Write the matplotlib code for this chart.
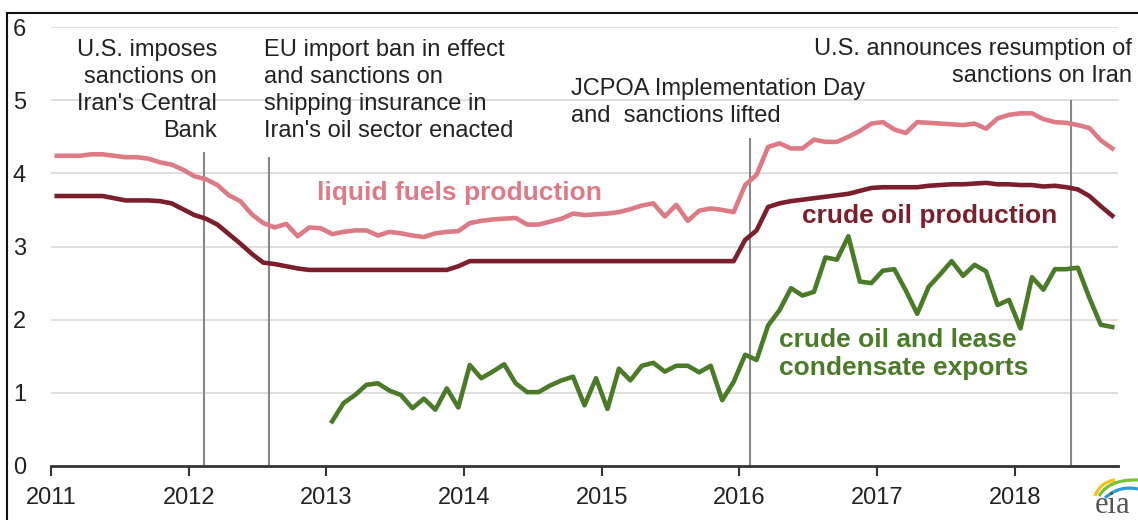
import matplotlib
matplotlib.use("Agg")
import matplotlib.pyplot as plt
from matplotlib.patches import Rectangle, PathPatch
from matplotlib.path import Path
import numpy as np

# ---------------- data (million barrels per day) ----------------
start_year = 2011
liquid_fuels = [4.24, 4.24, 4.24, 4.26, 4.26, 4.24, 4.22, 4.22, 4.20, 4.15, 4.12, 4.05,
                3.96, 3.92, 3.84, 3.70, 3.62, 3.44, 3.32, 3.26, 3.31, 3.14, 3.26, 3.25,
                3.17, 3.20, 3.22, 3.22, 3.15, 3.20, 3.18, 3.15, 3.13, 3.18, 3.20, 3.21,
                3.32, 3.35, 3.37, 3.38, 3.39, 3.30, 3.30, 3.34, 3.38, 3.45, 3.43, 3.44,
                3.45, 3.47, 3.51, 3.56, 3.59, 3.41, 3.57, 3.35, 3.49, 3.52, 3.50, 3.47,
                3.84, 3.98, 4.36, 4.41, 4.34, 4.34, 4.46, 4.43, 4.43, 4.50, 4.58, 4.68,
                4.70, 4.60, 4.55, 4.70, 4.69, 4.68, 4.67, 4.66, 4.68, 4.61, 4.75, 4.80,
                4.82, 4.82, 4.74, 4.70, 4.69, 4.66, 4.62, 4.45, 4.34]
crude_production = [3.69, 3.69, 3.69, 3.69, 3.69, 3.66, 3.63, 3.63, 3.63, 3.62, 3.59, 3.51,
                    3.43, 3.38, 3.30, 3.17, 3.04, 2.90, 2.78, 2.76, 2.73, 2.70, 2.68, 2.68,
                    2.68, 2.68, 2.68, 2.68, 2.68, 2.68, 2.68, 2.68, 2.68, 2.68, 2.68, 2.73,
                    2.80, 2.80, 2.80, 2.80, 2.80, 2.80, 2.80, 2.80, 2.80, 2.80, 2.80, 2.80,
                    2.80, 2.80, 2.80, 2.80, 2.80, 2.80, 2.80, 2.80, 2.80, 2.80, 2.80, 2.80,
                    3.09, 3.22, 3.54, 3.59, 3.62, 3.64, 3.66, 3.68, 3.70, 3.72, 3.76, 3.80,
                    3.81, 3.81, 3.81, 3.81, 3.83, 3.84, 3.85, 3.85, 3.86, 3.87, 3.85, 3.85,
                    3.84, 3.84, 3.82, 3.83, 3.81, 3.78, 3.69, 3.55, 3.42]
exports_start_index = 24  # January 2013
crude_exports = [0.61, 0.86, 0.97, 1.11, 1.13, 1.03, 0.97, 0.79, 0.92, 0.77, 1.06, 0.80,
                 1.38, 1.20, 1.29, 1.39, 1.13, 1.01, 1.01, 1.10, 1.17, 1.22, 0.83, 1.20,
                 0.78, 1.33, 1.17, 1.37, 1.41, 1.29, 1.37, 1.37, 1.28, 1.37, 0.90, 1.15,
                 1.52, 1.45, 1.92, 2.13, 2.43, 2.33, 2.38, 2.85, 2.82, 3.14, 2.52, 2.50,
                 2.67, 2.69, 2.40, 2.08, 2.45, 2.62, 2.80, 2.60, 2.75, 2.66, 2.20, 2.27,
                 1.88, 2.58, 2.41, 2.69, 2.69, 2.71, 2.30, 1.93, 1.90]

event_dates = [2012.11, 2012.58, 2016.08, 2018.41]
event_tops = [4.29, 4.22, 4.48, 5.0]
event_labels = ["U.S. imposes\nsanctions on\nIran's Central\nBank",
                "EU import ban in effect\nand sanctions on\nshipping insurance in\nIran's oil sector enacted",
                "JCPOA Implementation Day\nand  sanctions lifted",
                "U.S. announces resumption of\nsanctions on Iran"]
year_ticks = list(range(2011, 2019))
y_ticks = [0, 1, 2, 3, 4, 5, 6]

# ---------------- figure ----------------
W, H = 1138, 520
fig = plt.figure(figsize=(W / 100, H / 100), dpi=100)
plt.rcParams['font.family'] = ['Liberation Sans', 'DejaVu Sans']

x0, x1 = 51, 1118
y0, y6 = 466, 27
ax = fig.add_axes([x0 / W, 1 - y0 / H, (x1 - x0) / W, (y0 - y6) / H])
ax.set_xlim(2011, 2018.75)
ax.set_ylim(0, 6)

t_all = start_year + (np.arange(len(liquid_fuels)) + 0.5) / 12
t_exp = start_year + (np.arange(exports_start_index, exports_start_index + len(crude_exports)) + 0.5) / 12

c_liq = '#dc7a86'
c_crude = '#7c1f2d'
c_green = '#4b7b29'
grey = '#888888'
txt = '#222222'

for y in y_ticks[1:]:
    ax.axhline(y, color='#d9d9d9', lw=1.2, zorder=0)

for d, top in zip(event_dates, event_tops):
    ax.plot([d, d], [0, top], color=grey, lw=1.5, zorder=1, solid_capstyle='butt')

ax.plot(t_all, liquid_fuels, color=c_liq, lw=3.3, zorder=3, solid_joinstyle='round')
ax.plot(t_all, crude_production, color=c_crude, lw=3.3, zorder=3, solid_joinstyle='round')
ax.plot(t_exp, crude_exports, color=c_green, lw=3.3, zorder=3, solid_joinstyle='round')

for s in ['left', 'right', 'top']:
    ax.spines[s].set_visible(False)
ax.spines['bottom'].set_color('#333333')
ax.spines['bottom'].set_linewidth(2)
ax.set_xticks(year_ticks)
ax.set_xticklabels([str(y) for y in year_ticks], fontsize=17, color=txt)
ax.tick_params(axis='x', length=7, width=1.5, color='#333333', pad=8)
ax.set_yticks(y_ticks)
ax.set_yticklabels([str(y) for y in y_ticks], fontsize=17, color=txt)
ax.tick_params(axis='y', length=0, pad=18)


def px2v(y):
    return (466 - y) / 73.2


def px2t(x):
    return 2011 + (x - 51) / 137.6


fs = 17
ls = 1.29
ax.text(px2t(217), px2v(39), event_labels[0], ha='right', va='top', multialignment='right',
        fontsize=fs, color=txt, linespacing=ls)
ax.text(px2t(264), px2v(39), event_labels[1], ha='left', va='top', fontsize=fs,
        color=txt, linespacing=ls)
ax.text(px2t(571), px2v(78), event_labels[2], ha='left', va='top', fontsize=fs,
        color=txt, linespacing=ls)
ax.text(px2t(1131), px2v(38), event_labels[3], ha='right', va='top', multialignment='right',
        fontsize=fs, color=txt, linespacing=ls, clip_on=False)

bfs = 19
ax.text(px2t(317), px2v(193), "liquid fuels production", ha='left', va='center',
        fontsize=bfs, fontweight='bold', color=c_liq)
ax.text(px2t(802), px2v(216), "crude oil production", ha='left', va='center',
        fontsize=bfs, fontweight='bold', color=c_crude)
ax.text(px2t(779), px2v(354), "crude oil and lease\ncondensate exports", ha='left', va='center',
        fontsize=bfs, fontweight='bold', color=c_green, linespacing=1.2)

# frame border
fig.add_artist(Rectangle((7 / W, -0.5), 1.5, 0.5 + (1 - 13 / H), transform=fig.transFigure,
                         fill=False, edgecolor='#111111', lw=1.5))

# eia logo (coords: x = px - 1085, y = 520 - px)
lax = fig.add_axes([1085 / W, 0, 53 / W, 45 / H])
lax.set_xlim(0, 53)
lax.set_ylim(0, 45)
lax.axis('off')
lax.text(28, 7, 'eia', family=['Liberation Serif', 'DejaVu Serif'], fontsize=22,
         color='#555555', ha='center', va='baseline')
arcs = [((10, 24), (15, 38), (30, 40), '#f2c318'),
        ((14, 24), (24, 41), (53, 40), '#7cbf3a'),
        ((20, 22), (34, 35), (53, 31), '#2a9ad8')]
for p0, pc, p1, col in arcs:
    path = Path([p0, pc, p1], [Path.MOVETO, Path.CURVE3, Path.CURVE3])
    lax.add_patch(PathPatch(path, fill=False, edgecolor=col, lw=2.3))

fig.savefig('out.png', dpi=100)
